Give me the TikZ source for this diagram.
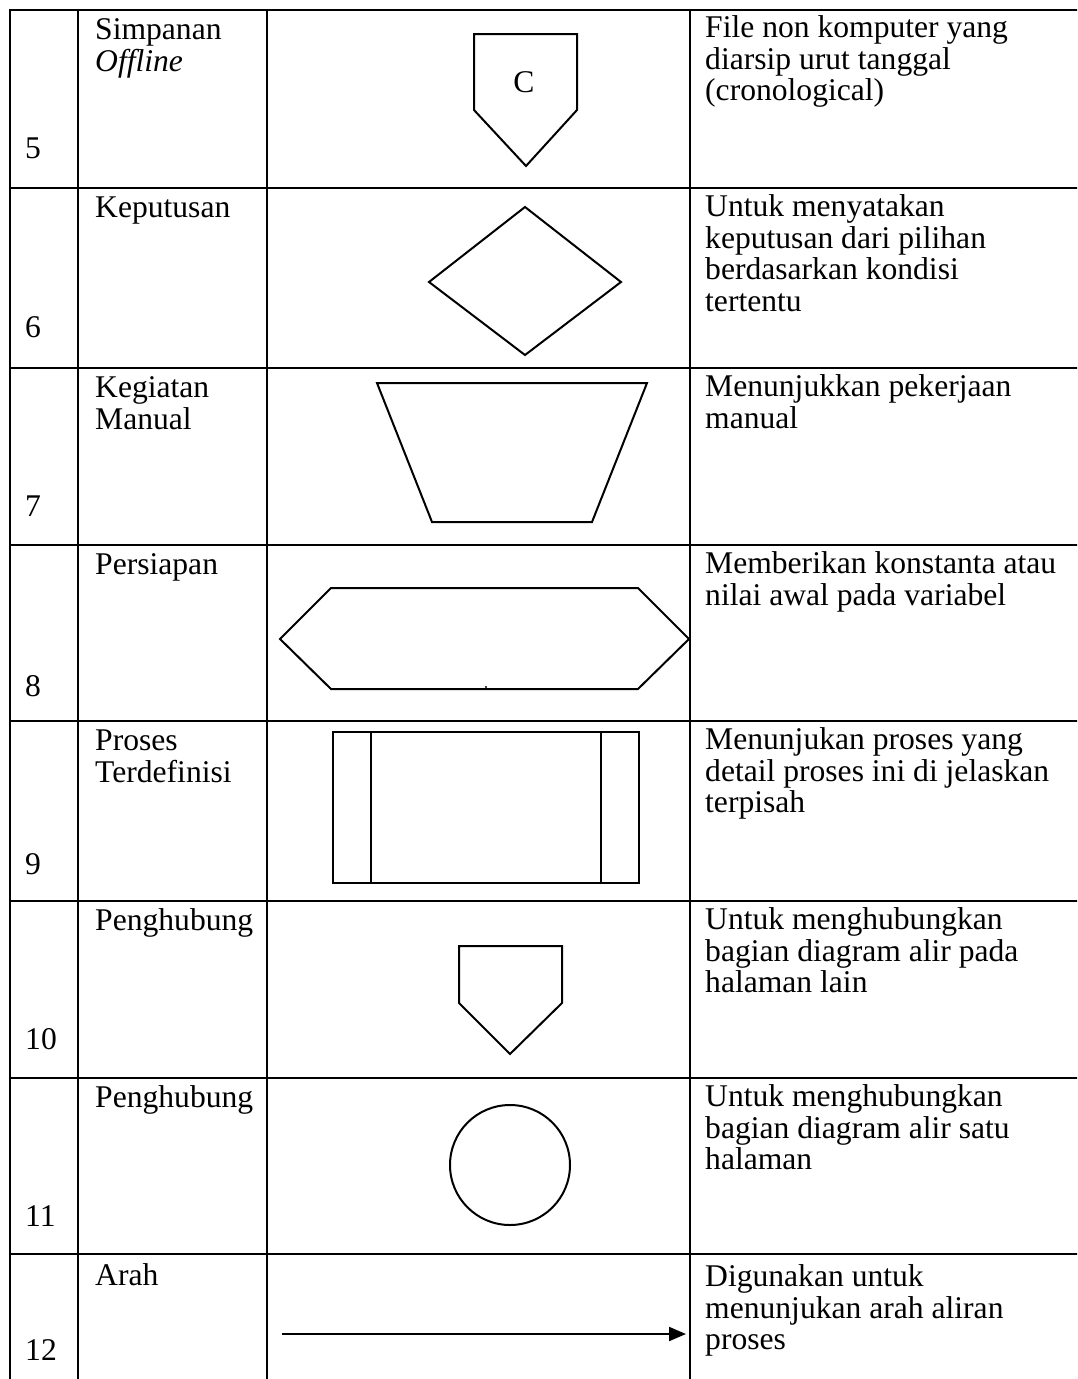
\documentclass[tikz,border=0pt]{standalone}
\usepackage{fontspec}
\setmainfont{Liberation Serif}
\usetikzlibrary{arrows.meta}
\newcommand{\firstline}{\rule{0pt}{24pt}}
\begin{document}
\begin{tikzpicture}[x=1pt,y=-1pt,
  tableline/.style={line width=2.6pt, line cap=rect},
  symline/.style={line width=2pt, line join=miter},
  cell/.style={anchor=north west, inner sep=0pt, align=left,
    font=\fontsize{31.6}{31.8}\selectfont},
]
\useasboundingbox (0,0) rectangle (1077,1379);
\clip (0,0) rectangle (1077,1379);

% table grid
\foreach \yy in {10,188,368,545,721,901,1078,1254}
  \draw[tableline] (10,\yy) -- (1095,\yy);
\foreach \xx in {10,78,267,690}
  \draw[tableline] (\xx,10) -- (\xx,1395);

% column 1: numbers
\node[cell] (n5)  at (25,158-24)  {\firstline 5};
\node[cell] (n6)  at (25,337-24)  {\firstline 6};
\node[cell] (n7)  at (25,516-24)  {\firstline 7};
\node[cell] (n8)  at (25,696-24)  {\firstline 8};
\node[cell] (n9)  at (25,874-24)  {\firstline 9};
\node[cell] (n10) at (25,1049-24) {\firstline 10};
\node[cell] (n11) at (25,1226-24) {\firstline 11};
\node[cell] (n12) at (25,1360-24) {\firstline 12};

% column 2: symbol names
\node[cell] (s5)  at (95,39-24)   {\firstline Simpanan\\\textit{Offline}};
\node[cell] (s6)  at (95,217-24)  {\firstline Keputusan};
\node[cell] (s7)  at (95,397-24)  {\firstline Kegiatan\\Manual};
\node[cell] (s8)  at (95,574-24)  {\firstline Persiapan};
\node[cell] (s9)  at (95,750-24)  {\firstline Proses\\Terdefinisi};
\node[cell] (s10) at (95,930-24)  {\firstline Penghubung};
\node[cell] (s11) at (95,1107-24) {\firstline Penghubung};
\node[cell] (s12) at (95,1285-24) {\firstline Arah};

% column 4: descriptions
\node[cell] (d5)  at (705,37-24)   {\firstline File non komputer yang\\diarsip urut tanggal\\(cronological)};
\node[cell] (d6)  at (705,216-24)  {\firstline Untuk menyatakan\\keputusan dari pilihan\\berdasarkan kondisi\\tertentu};
\node[cell] (d7)  at (705,396-24)  {\firstline Menunjukkan pekerjaan\\manual};
\node[cell] (d8)  at (705,573-24)  {\firstline Memberikan konstanta atau\\nilai awal pada variabel};
\node[cell] (d9)  at (705,749-24)  {\firstline Menunjukan proses yang\\detail proses ini di jelaskan\\terpisah};
\node[cell] (d10) at (705,929-24)  {\firstline Untuk menghubungkan\\bagian diagram alir pada\\halaman lain};
\node[cell] (d11) at (705,1106-24) {\firstline Untuk menghubungkan\\bagian diagram alir satu\\halaman};
\node[cell] (d12) at (705,1286-24) {\firstline Digunakan untuk\\menunjukan arah aliran\\proses};

% column 3: symbols
% offline storage
\draw[symline] (474,34) -- (577,34) -- (577,110) -- (526,166) -- (474,110) -- cycle;
\node[font=\fontsize{31.6}{31.8}\selectfont, inner sep=0pt] (c5) at (524,82) {C};
% decision
\draw[symline] (525,207) -- (621,282) -- (525,355) -- (429,282) -- cycle;
% manual operation
\draw[symline] (377,383) -- (647,383) -- (592,522) -- (432,522) -- cycle;
% preparation
\draw[symline] (280,639) -- (331,588) -- (638,588) -- (689,639) -- (638,689) -- (331,689) -- cycle;
\fill (486,687) circle (1.2);
% predefined process
\draw[symline] (333,732) rectangle (639,883);
\draw[symline] (371,732) -- (371,883);
\draw[symline] (601,732) -- (601,883);
% off-page connector
\draw[symline] (459,946) -- (562,946) -- (562,1003) -- (510,1054) -- (459,1003) -- cycle;
% on-page connector
\draw[symline] (510,1165) circle (60);
% flow direction
\coordinate (a0) at (282,1334);
\coordinate (a1) at (686,1334);
\draw[symline, -{Triangle[length=17pt,width=14pt]}] (a0) -- (a1);
\end{tikzpicture}
\end{document}
